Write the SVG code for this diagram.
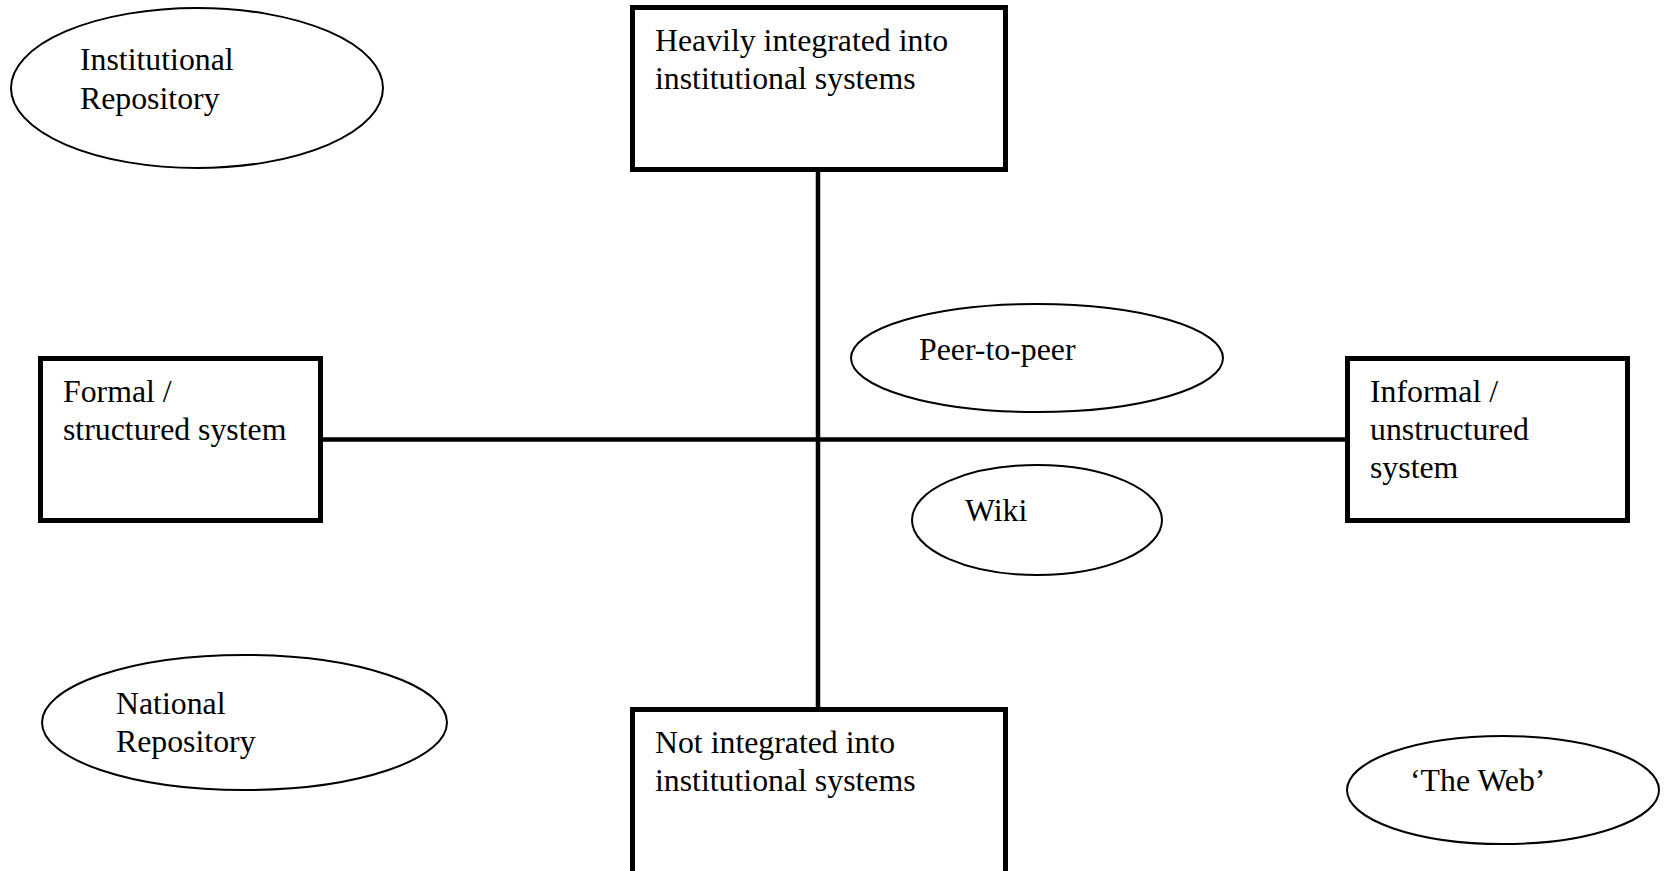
<svg xmlns="http://www.w3.org/2000/svg" width="1666" height="871" viewBox="0 0 1666 871">
<style>
.box{fill:#fff;stroke:#000;stroke-width:5}
.ell{fill:#fff;stroke:#000;stroke-width:2}
.ln{stroke:#000;stroke-width:4.5;fill:none}
text{font-family:"Liberation Serif","Times New Roman",serif;font-size:31.8px;fill:#000}
</style>
<rect width="1666" height="871" fill="#fff"/>
<g id="connectors">
<line class="ln" x1="818" y1="170" x2="818" y2="709"/>
<line class="ln" x1="321" y1="439.5" x2="1347" y2="439.5"/>
</g>
<g id="institutional-repository">
<ellipse class="ell" cx="197" cy="88" rx="186" ry="80"/>
<text x="80" y="70">Institutional</text>
<text x="80" y="109">Repository</text>
</g>
<g id="heavily-integrated">
<rect class="box" x="632.5" y="7.5" width="373" height="162"/>
<text x="655" y="51">Heavily integrated into</text>
<text x="655" y="89">institutional systems</text>
</g>
<g id="peer-to-peer">
<ellipse class="ell" cx="1037" cy="358" rx="186" ry="54"/>
<text x="919" y="360">Peer-to-peer</text>
</g>
<g id="formal">
<rect class="box" x="40.5" y="358.5" width="280" height="162"/>
<text x="63" y="402">Formal /</text>
<text x="63" y="440">structured system</text>
</g>
<g id="informal">
<rect class="box" x="1347.5" y="358.5" width="280" height="162"/>
<text x="1370" y="402">Informal /</text>
<text x="1370" y="440">unstructured</text>
<text x="1370" y="478">system</text>
</g>
<g id="wiki">
<ellipse class="ell" cx="1037" cy="520" rx="125" ry="55"/>
<text x="965" y="521">Wiki</text>
</g>
<g id="national-repository">
<ellipse class="ell" cx="244.5" cy="722.5" rx="202.5" ry="67.5"/>
<text x="116" y="714">National</text>
<text x="116" y="752">Repository</text>
</g>
<g id="not-integrated">
<rect class="box" x="632.5" y="709.5" width="373" height="200"/>
<text x="655" y="753">Not integrated into</text>
<text x="655" y="791">institutional systems</text>
</g>
<g id="the-web">
<ellipse class="ell" cx="1503" cy="790" rx="156" ry="54"/>
<text x="1410" y="791">‘The Web’</text>
</g>
</svg>
